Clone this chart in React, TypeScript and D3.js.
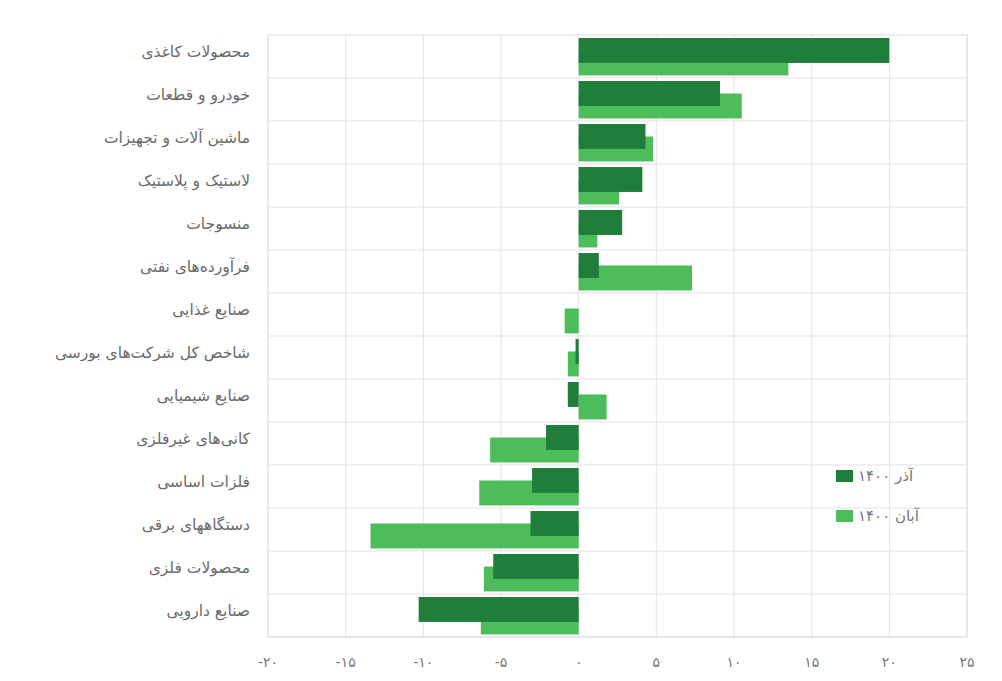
import React from "react";
import * as d3 from "d3";

const categories = [
  "محصولات کاغذی",
  "خودرو و قطعات",
  "ماشین آلات و تجهیزات",
  "لاستیک و پلاستیک",
  "منسوجات",
  "فرآورده‌های نفتی",
  "صنایع غذایی",
  "شاخص کل شرکت‌های بورسی",
  "صنایع شیمیایی",
  "کانی‌های غیرفلزی",
  "فلزات اساسی",
  "دستگاههای برقی",
  "محصولات فلزی",
  "صنایع دارویی",
];
const azar1400 = [20.0, 9.1, 4.3, 4.1, 2.8, 1.3, 0, -0.2, -0.7, -2.1, -3.0, -3.1, -5.5, -10.3];
const aban1400 = [13.5, 10.5, 4.8, 2.6, 1.2, 7.3, -0.9, -0.7, 1.8, -5.7, -6.4, -13.4, -6.1, -6.3];
const tickValues = [-20, -15, -10, -5, 0, 5, 10, 15, 20, 25];
const tickLabels = ["-۲۰", "-۱۵", "-۱۰", "-۵", "۰", "۵", "۱۰", "۱۵", "۲۰", "۲۵"];
const seriesNames = ["آذر ۱۴۰۰", "آبان ۱۴۰۰"];

const W = 1002;
const H = 681;
const plot = { left: 268, right: 967, top: 35, bottom: 637 };
const DARK = "#1f7e3a";
const LIGHT = "#4dbd5c";
const GRID = "#e2e2e8";
const FONT = "'DejaVu Sans', 'Noto Sans', sans-serif";

export default function App() {
  const x = d3.scaleLinear().domain([-20, 25]).range([plot.left, plot.right]);
  const y = d3
    .scaleBand<string>()
    .domain(categories)
    .range([plot.top, plot.bottom])
    .paddingInner(0)
    .paddingOuter(0);
  const bw = y.bandwidth();
  const barH = bw * 0.58;

  return (
    <svg
      width={W}
      height={H}
      viewBox={`0 0 ${W} ${H}`}
      style={{ position: "absolute", left: 0, top: 0, background: "#fff" }}
    >
      <rect x={0} y={0} width={W} height={H} fill="#fff" />
      {tickValues.map((t) => (
        <line
          key={"vg" + t}
          x1={x(t)}
          x2={x(t)}
          y1={plot.top}
          y2={plot.bottom}
          stroke={GRID}
          strokeWidth={1}
        />
      ))}
      {categories.map((c, i) => (
        <line
          key={"hg" + i}
          x1={plot.left}
          x2={plot.right}
          y1={(y(c) as number) + bw}
          y2={(y(c) as number) + bw}
          stroke={GRID}
          strokeWidth={1}
        />
      ))}
      <rect
        x={plot.left}
        y={plot.top}
        width={plot.right - plot.left}
        height={plot.bottom - plot.top}
        fill="none"
        stroke={GRID}
        strokeWidth={1.2}
      />
      {categories.map((c, i) => {
        const v = aban1400[i];
        const y0 = (y(c) as number) + bw * 0.36;
        return (
          <rect
            key={"l" + i}
            x={Math.min(x(0), x(v))}
            y={y0}
            width={Math.abs(x(v) - x(0))}
            height={barH}
            fill={LIGHT}
          />
        );
      })}
      {categories.map((c, i) => {
        const v = azar1400[i];
        const y0 = (y(c) as number) + bw * 0.07;
        return (
          <rect
            key={"d" + i}
            x={Math.min(x(0), x(v))}
            y={y0}
            width={Math.abs(x(v) - x(0))}
            height={barH}
            fill={DARK}
          />
        );
      })}
      {categories.map((c, i) => (
        <text
          key={"c" + i}
          x={250}
          y={(y(c) as number) + bw / 2 - 4}
          textAnchor="end"
          dominantBaseline="middle"
          fontFamily={FONT}
          fontSize={15.5}
          fill="#6a6a6a"
        >
          {c}
        </text>
      ))}
      {tickValues.map((t, i) => (
        <text
          key={"t" + t}
          x={x(t)}
          y={663}
          textAnchor="middle"
          dominantBaseline="middle"
          fontFamily={FONT}
          fontSize={14}
          fill="#777"
        >
          {tickLabels[i]}
        </text>
      ))}
      {seriesNames.map((s, i) => (
        <g key={"lg" + i} transform={`translate(836, ${476 + i * 40})`}>
          <rect x={0} y={-6} width={17} height={12} fill={i === 0 ? DARK : LIGHT} />
          <text
            x={22}
            y={0}
            dominantBaseline="middle"
            fontFamily={FONT}
            fontSize={15}
            fill="#777"
          >
            {s}
          </text>
        </g>
      ))}
    </svg>
  );
}
